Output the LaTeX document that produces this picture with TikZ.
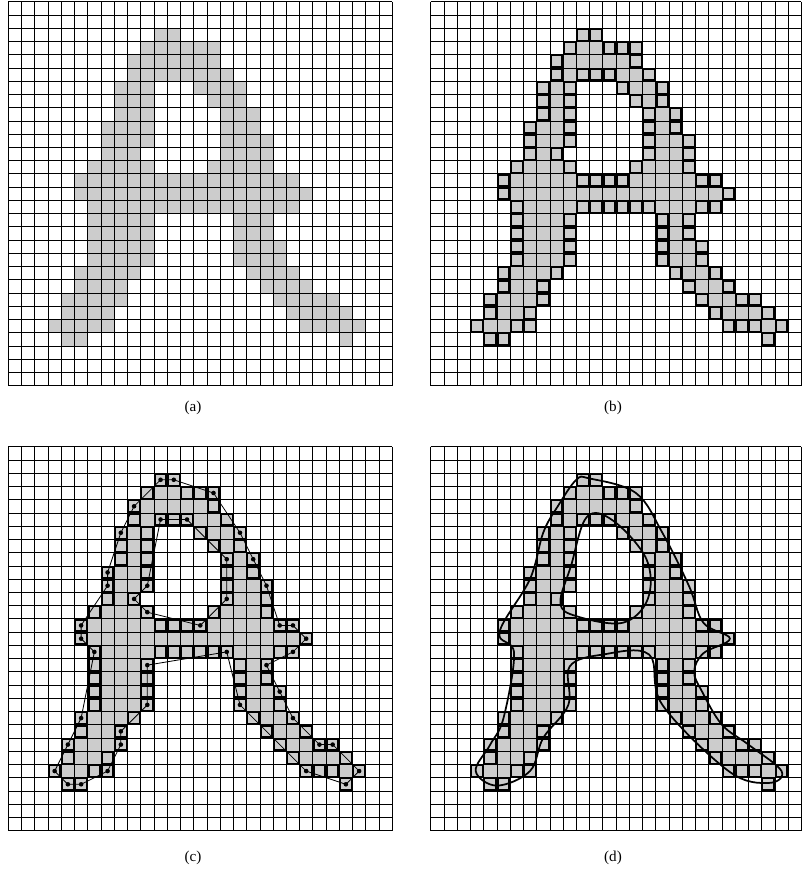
\documentclass[tikz,border=0pt]{standalone}
\usepackage{fontspec}
\setmainfont{Liberation Serif}
\usetikzlibrary{calc}
\tikzset{
  cellfill/.style={fill=black!20},
  gridline/.style={line width=0.55pt, black},
  edgecell/.style={draw=black, line width=1.5pt},
  centerdot/.style={circle, fill=black, inner sep=1.4pt},
  contour/.style={line width=0.7pt, black},
  smoothline/.style={line width=1.5pt, black},
  caption/.style={font=\fontsize{13}{15}\selectfont},
}
% row/first/last of the filled runs
\newcommand{\letterruns}{2/11/12, 3/10/15, 4/9/15, 5/9/16, 6/8/10, 6/14/17, 7/8/10, 7/15/17,
  8/8/10, 8/16/18, 9/7/10, 9/16/18, 10/7/10, 10/16/19, 11/7/9, 11/16/19,
  12/6/10, 12/15/19, 13/5/21, 14/5/22, 15/6/21, 16/6/10, 16/17/19, 17/6/10, 17/17/19,
  18/6/10, 18/17/20, 19/6/10, 19/17/20, 20/5/9, 20/18/21, 21/5/8, 21/19/22,
  22/4/8, 22/20/24, 23/4/7, 23/21/25, 24/3/7, 24/22/26, 25/4/5, 25/25/25}
% border cells (col/row)
\newcommand{\bordercells}{11/2, 12/2, 10/3, 13/3, 14/3, 15/3, 9/4, 15/4, 9/5, 11/5, 12/5, 13/5, 16/5,
  8/6, 10/6, 14/6, 17/6, 8/7, 10/7, 15/7, 17/7, 8/8, 10/8, 16/8, 18/8, 7/9, 10/9, 16/9, 18/9,
  7/10, 10/10, 16/10, 19/10, 7/11, 9/11, 16/11, 19/11, 6/12, 10/12, 15/12, 19/12,
  5/13, 11/13, 12/13, 13/13, 14/13, 20/13, 21/13, 5/14, 22/14,
  6/15, 11/15, 12/15, 13/15, 14/15, 15/15, 16/15, 20/15, 21/15,
  6/16, 10/16, 17/16, 19/16, 6/17, 10/17, 17/17, 19/17, 6/18, 10/18, 17/18, 20/18,
  6/19, 10/19, 17/19, 20/19, 5/20, 9/20, 18/20, 21/20, 5/21, 8/21, 19/21, 22/21,
  4/22, 8/22, 20/22, 23/22, 24/22, 4/23, 7/23, 21/23, 25/23,
  3/24, 6/24, 7/24, 22/24, 23/24, 24/24, 26/24, 4/25, 5/25, 25/25}
% polygon corners picked on the border cells
\newcommand{\outerpoly}{12/2, 15/3, 17/6, 18/8, 19/10, 20/13, 21/13, 22/14, 21/15, 19/16, 20/18,
  21/20, 23/22, 24/22, 26/24, 25/25, 22/24, 17/19, 16/15, 10/16, 10/19, 8/21, 8/22, 7/24,
  5/25, 4/25, 3/24, 4/22, 5/20, 6/15, 5/14, 5/13, 7/10, 7/9, 8/6, 9/4, 11/2}
\newcommand{\innerpoly}{13/5, 16/8, 16/11, 14/13, 10/12, 9/11, 10/10, 11/5}
% grid panel: #1 columns
\newcommand{\letterpanel}[1]{%
  \foreach \r/\a/\b in \letterruns
    \fill[cellfill] (\a,\r) rectangle ({\b+1},{\r+1});
  \foreach \i in {0,...,#1}
    \draw[gridline] (\i,0) -- (\i,29);
  \foreach \j in {0,...,29}
    \draw[gridline] (0,\j) -- (#1,\j);
}
\newcommand{\edgeboxes}{%
  \foreach \c/\r in \bordercells
    \draw[edgecell] ({\c+0.07},{\r+0.07}) rectangle ({\c+0.93},{\r+0.93});
}

\begin{document}
\begin{tikzpicture}[x=0.4cm, y=-0.4cm]
\useasboundingbox (0,0) rectangle (60.88,66.62);
% (a) binary image
\begin{scope}[shift={(0.627,0.128)}]
\letterpanel{29}
\end{scope}
\node[caption] (capa) at (14.58,30.8) {(a)};
% (b) border cells
\begin{scope}[shift={(32.53,0.128)}]
\letterpanel{28}
\edgeboxes
\end{scope}
\node[caption] (capb) at (46.3,30.8) {(b)};
% (c) polygon through picked centres
\begin{scope}[shift={(0.627,33.74)}]
\letterpanel{29}
\edgeboxes
\draw[contour] (11.5,2.5) \foreach \c/\r in \outerpoly { -- ({\c+0.5},{\r+0.5}) } -- cycle;
\draw[contour] (11.5,5.5) \foreach \c/\r in \innerpoly { -- ({\c+0.5},{\r+0.5}) } -- cycle;
\foreach \c/\r in \outerpoly
  \node[centerdot] at ({\c+0.5},{\r+0.5}) {};
\foreach \c/\r in \innerpoly
  \node[centerdot] at ({\c+0.5},{\r+0.5}) {};
\end{scope}
\node[caption] (capc) at (14.58,64.8) {(c)};
% (d) smoothed outline
\begin{scope}[shift={(32.53,33.74)}]
\letterpanel{28}
\edgeboxes
\draw[smoothline] plot[smooth cycle, tension=0.6] coordinates {(12,2.4) (15.5,3.5) (17.5,6.5)
  (19.5,10.5) (20.6,13.3) (22.6,14.5) (20.6,15.6) (19.9,17) (20.5,18.5) (22,21) (24,22.5)
  (26.5,24.5) (25.5,25.4) (22.5,24.5) (17.5,19.5) (16.5,15.7) (13,15.7) (10.5,16.6)
  (10.4,19.5) (8.5,22) (7.5,24.5) (5,25.6) (3.4,24.5) (4.5,22.5) (5.5,20.5) (6.3,15.6)
  (5.2,14) (7.5,10) (8.5,6.5) (9.6,4.5) (11,2.5)};
\draw[smoothline] plot[smooth cycle, tension=0.6] coordinates {(11.8,5.3) (13.8,5.6) (16.3,8.5)
  (16.4,11.5) (14.5,13.3) (11,12.8) (9.8,11.8) (10.6,9)};
\end{scope}
\node[caption] (capd) at (46.3,64.8) {(d)};
\end{tikzpicture}
\end{document}
